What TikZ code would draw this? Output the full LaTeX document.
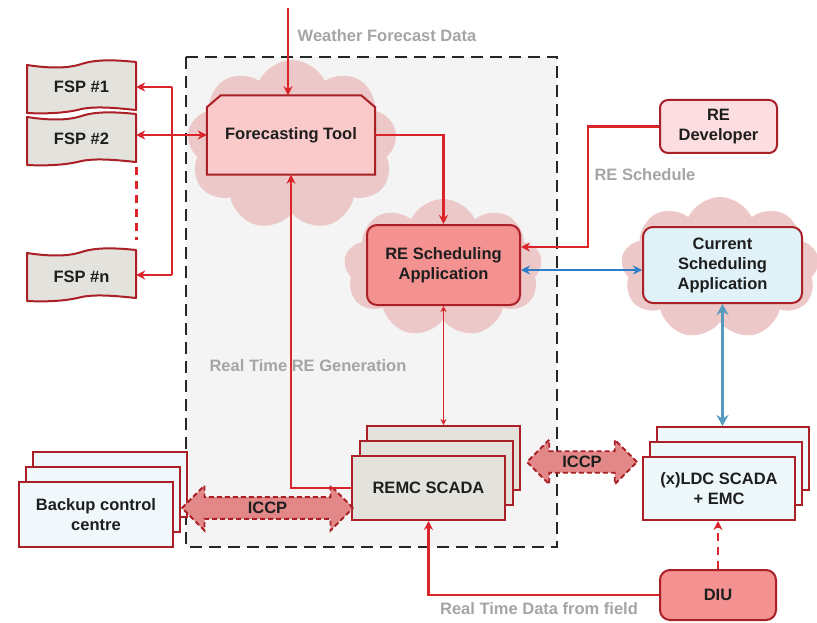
\documentclass[tikz,border=0pt]{standalone}
\usepackage{fontspec}
\setmainfont{Liberation Sans}
\usetikzlibrary{shapes.symbols,shapes.arrows,arrows.meta}
\definecolor{boxred}{RGB}{170,32,38}
\definecolor{linered}{RGB}{218,36,42}
\definecolor{cloudpink}{RGB}{236,200,200}
\definecolor{ftpink}{RGB}{250,202,202}
\definecolor{salmon}{RGB}{244,145,145}
\definecolor{devpink}{RGB}{252,222,224}
\definecolor{csblue}{RGB}{224,242,248}
\definecolor{ldcblue}{RGB}{238,248,251}
\definecolor{bkblue}{RGB}{240,248,252}
\definecolor{scgray}{RGB}{228,226,220}
\definecolor{panel}{RGB}{244,244,244}
\definecolor{labelgray}{RGB}{165,165,165}
\definecolor{arrowblue}{RGB}{45,125,200}
\definecolor{steel}{RGB}{85,155,190}
\definecolor{iccpfill}{RGB}{226,136,136}
\definecolor{txt}{RGB}{30,30,30}
\tikzset{
  lbl/.style={font=\fontsize{16.5}{20}\selectfont\bfseries, text=txt, align=center},
  glbl/.style={font=\fontsize{16.5}{20}\selectfont\bfseries, text=labelgray},
  boxbase/.style={draw=boxred, line width=2pt, lbl, inner sep=0pt},
  stackbox/.style={draw=boxred, line width=2pt, inner sep=0pt},
  cloudbg/.style={cloud, cloud puffs=9, cloud puff arc=130, fill=cloudpink, draw=none, inner sep=0pt},
  redline/.style={draw=linered, line width=2.2pt},
  tipend/.style={-{Stealth[length=9pt,width=9pt]}},
  tipboth/.style={{Stealth[length=9pt,width=9pt]}-{Stealth[length=9pt,width=9pt]}},
  iccp/.style={double arrow, double arrow head extend=11.5pt, draw=boxred, line width=1.8pt,
    dash pattern=on 5pt off 3pt, fill=iccpfill, lbl, inner sep=4pt},
  fsparea/.style={minimum width=109pt, minimum height=50pt, inner sep=0pt},
  fspshape/.pic={
    \draw[draw=boxred, line width=2pt, fill=scgray, line join=round]
      (-54.5,-22) .. controls (-35,-19) and (-15,-18) .. (0,-23)
      .. controls (15,-28) and (35,-27) .. (54.5,-25)
      -- (54.5,23) .. controls (35,21) and (15,19) .. (0,22)
      .. controls (-15,26) and (-35,27) .. (-54.5,26) -- cycle;
  }
}
\begin{document}
\begin{tikzpicture}[x=1pt,y=-1pt]
\useasboundingbox (0,0) rectangle (817,623);
\fill[white] (0,0) rectangle (817,623);
% panel
\draw[fill=panel, draw=black!85, line width=2.6pt, dash pattern=on 12pt off 7pt] (186,57) rectangle (557,547);
% clouds
\node[cloudbg, minimum width=210pt, minimum height=170pt] (c1) at (292,145) {};
\node[cloudbg, minimum width=198pt, minimum height=138pt] (c2) at (443,268) {};
\node[cloudbg, minimum width=198pt, minimum height=142pt] (c3) at (720,268) {};
% forecasting tool
\node[minimum width=168pt, minimum height=79pt, inner sep=0pt] (ft) at (291,135) {};
\draw[draw=boxred, line width=2pt, fill=ftpink] (ft.south west) -- ([yshift=-12pt]ft.north west) -- ([xshift=14pt]ft.north west) -- ([xshift=-14pt]ft.north east) -- ([yshift=-12pt]ft.north east) -- (ft.south east) -- cycle;
\node[lbl] (ftt) at (ft) {Forecasting Tool};
% boxes
\node[boxbase, rounded corners=10pt, fill=salmon, minimum width=153pt, minimum height=80pt] (rs) at (443.5,265) {RE Scheduling\\Application};
\node[boxbase, rounded corners=8pt, fill=devpink, minimum width=117pt, minimum height=53pt] (rd) at (718.5,126.5) {RE\\Developer};
\node[boxbase, rounded corners=10pt, fill=csblue, minimum width=159pt, minimum height=76pt] (csa) at (722.5,265) {Current\\Scheduling\\Application};
\node[boxbase, rounded corners=10pt, fill=salmon, minimum width=116pt, minimum height=50pt] (diu) at (718,595) {DIU};
% REMC stack
\node[stackbox, fill=scgray, minimum width=153pt, minimum height=64pt] (remc3) at (443.5,458) {};
\node[stackbox, fill=scgray, minimum width=153pt, minimum height=64pt] (remc2) at (436,473) {};
\node[boxbase, fill=scgray, minimum width=153pt, minimum height=64pt] (remc) at (428.5,488) {REMC SCADA};
% LDC stack
\node[stackbox, fill=ldcblue, minimum width=152pt, minimum height=63pt] (ldc3) at (733,458.5) {};
\node[stackbox, fill=ldcblue, minimum width=152pt, minimum height=63pt] (ldc2) at (726,473.5) {};
\node[boxbase, fill=ldcblue, minimum width=152pt, minimum height=63pt] (ldc) at (719,488.5) {(x)LDC SCADA\\+ EMC};
% backup stack
\node[stackbox, fill=bkblue, minimum width=154pt, minimum height=65pt] (bk3) at (110,484.5) {};
\node[stackbox, fill=bkblue, minimum width=154pt, minimum height=65pt] (bk2) at (103,499.5) {};
\node[boxbase, fill=bkblue, minimum width=154pt, minimum height=65pt] (bk) at (96,514.5) {Backup control\\centre};
% FSPs
\node[fsparea] (fsp1) at (81.5,87) {};
\pic at (fsp1) {fspshape};
\node[lbl] (fsp1t) at (fsp1) {FSP \#1};
\node[fsparea] (fsp2) at (81.5,139) {};
\pic at (fsp2) {fspshape};
\node[lbl] (fsp2t) at (fsp2) {FSP \#2};
\node[fsparea] (fspn) at (81.5,275) {};
\pic at (fspn) {fspshape};
\node[lbl] (fspnt) at ([yshift=-2pt]fspn.center) {FSP \#n};
% ICCP arrows
\node[iccp, minimum height=171pt, minimum width=45pt] (iccpl) at (267.5,508) {ICCP};
\node[iccp, minimum height=110pt, minimum width=43pt] (iccpr) at (582,462) {ICCP};
% labels
\node[glbl] (lw) at (387,36) {Weather Forecast Data};
\node[glbl] (lrs) at (645,175) {RE Schedule};
\node[glbl] (lrt) at (308,366) {Real Time RE Generation};
\node[glbl] (ldf) at (539,609) {Real Time Data from field};
% connectors
\coordinate (wtop) at (288,8);
\draw[redline, tipend] (wtop) -- (wtop |- ft.north);
\draw[redline, tipend] (ft.east) -| (rs.north);
\coordinate (rdc) at (588,247);
\draw[redline, tipend] (rd.west) -| (rdc) -- (rdc -| rs.east);
\draw[draw=linered, line width=1.1pt, {Stealth[length=6pt,width=6pt]}-{Stealth[length=6pt,width=6pt]}] (rs.south) -- (remc3.north);
\draw[redline, tipend] (remc.west) -| (ft.south);
\draw[redline, tipend] (diu.west) -| (remc.south);
\draw[redline, tipend, dash pattern=on 8pt off 6pt] (diu.north) -- (diu.north |- ldc.south);
\draw[draw=arrowblue, line width=2pt, tipboth] ([yshift=-5pt]rs.east) -- ([yshift=-5pt]rs.east -| csa.west);
\draw[draw=steel, line width=3.2pt, {Stealth[length=11pt,width=12pt]}-{Stealth[length=11pt,width=12pt]}] (csa.south) -- (csa.south |- ldc3.north);
\coordinate (bus) at (172,0);
\draw[redline] (bus |- fsp1.east) -- (bus |- fspn.east);
\draw[redline, tipend] (bus |- fsp1.east) -- (fsp1.east);
\draw[redline, tipend] (bus |- fspn.east) -- (fspn.east);
\draw[redline, tipboth] (ft.west -| fsp2.east) -- (ft.west);
\draw[draw=linered, line width=2.6pt, dash pattern=on 8pt off 6pt] ([yshift=-3pt]fsp2.south east) -- ([yshift=10pt]fspn.north east);
\end{tikzpicture}
\end{document}
